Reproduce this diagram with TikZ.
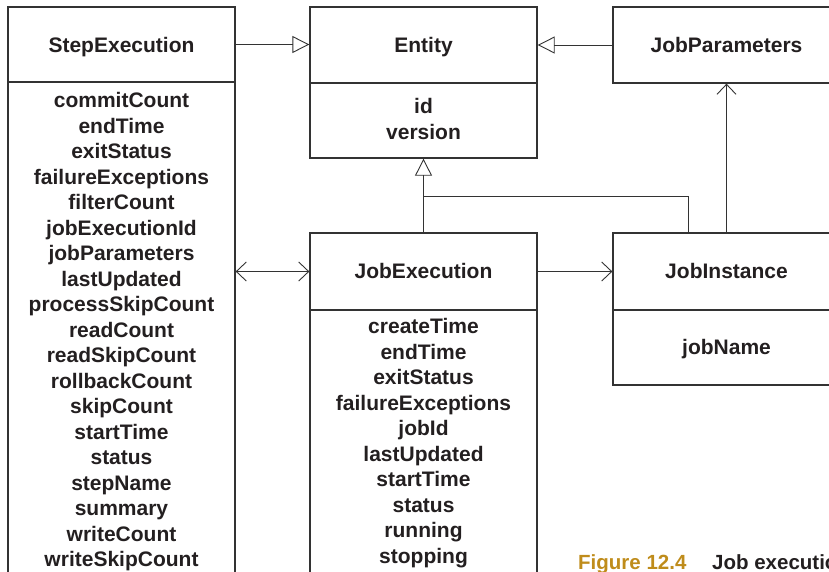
\documentclass[tikz,border=0pt]{standalone}
\usepackage{fontspec}
\setmainfont{Liberation Sans}
\usetikzlibrary{arrows.meta}
\definecolor{ink}{HTML}{231F20}
\definecolor{edge}{HTML}{333333}
\definecolor{gold}{RGB}{191,140,27}
\begin{document}
\begin{tikzpicture}[x=1pt,y=-1pt,
  box/.style={draw=edge, line width=1.3pt, inner sep=0pt, minimum width=227pt},
  lbl/.style={font=\fontsize{21}{25.5}\selectfont\bfseries, text=ink, anchor=base, inner sep=0pt},
  conn/.style={draw=edge, line width=0.9pt},
  tri/.style={-{Triangle[open, length=17pt, width=17pt, line width=0.9pt]}},
  barb/.style={-{Straight Barb[length=10pt, width=19pt, line width=0.9pt]}},
  dbarb/.style={{Straight Barb[length=10pt, width=19pt, line width=0.9pt]}-{Straight Barb[length=10pt, width=19pt, line width=0.9pt]}},
  capf/.style={font=\fontsize{20.5}{24}\selectfont\bfseries, anchor=base west, inner sep=0pt},
]
\useasboundingbox (0,0) rectangle (829,571);
\clip (0,0) rectangle (829,571);

% boxes
\node[box, minimum height=75pt] (seH) at (121.5,44.5) {};
\node[box, minimum height=538pt] (seB) at (121.5,351) {};
\node[box, minimum height=76pt] (entH) at (423.5,45) {};
\node[box, minimum height=75pt] (entB) at (423.5,120.5) {};
\node[box, minimum height=76pt] (jpH) at (726.5,45) {};
\node[box, minimum height=77pt] (jeH) at (423.5,271.5) {};
\node[box, minimum height=310pt] (jeB) at (423.5,465) {};
\node[box, minimum height=77pt] (jiH) at (726.5,271.5) {};
\node[box, minimum height=75pt] (jiB) at (726.5,347.5) {};

% titles
\node[lbl] (seT) at (121.5,52.5) {StepExecution};
\node[lbl] (entT) at (423.5,52.5) {Entity};
\node[lbl] (jpT) at (726.5,52.5) {JobParameters};
\node[lbl] (jeT) at (423.5,278.5) {JobExecution};
\node[lbl] (jiT) at (726.5,278.5) {JobInstance};

% attributes
\foreach \t [count=\k from 0] in {commitCount,endTime,exitStatus,failureExceptions,filterCount,jobExecutionId,jobParameters,lastUpdated,processSkipCount,readCount,readSkipCount,rollbackCount,skipCount,startTime,status,stepName,summary,writeCount,writeSkipCount}
  \node[lbl] (se\k) at (121.5,107.5+25.5*\k) {\t};
\foreach \t [count=\k from 0] in {createTime,endTime,exitStatus,failureExceptions,jobId,lastUpdated,startTime,status,running,stopping}
  \node[lbl] (je\k) at (423.5,333.5+25.5*\k) {\t};
\node[lbl] (ent0) at (423.5,113.5) {id};
\node[lbl] (ent1) at (423.5,139) {version};
\node[lbl] (ji0) at (726.5,354.5) {jobName};

% connectors
\draw[conn,tri] (seH.east) -- (seH.east -| entH.west);
\draw[conn,tri] (jpH.west) -- (entH.east);
\draw[conn,tri] (jeH.north) -- (entB.south);
\coordinate (jn) at ([xshift=-38.5pt]jiH.north);
\coordinate (jj) at (423.5,196);
\draw[conn] (jn) |- (jj);
\draw[conn,barb] (jiH.north) -- (jpH.south);
\draw[conn,dbarb] (jeH.west -| seB.east) -- (jeH.west);
\draw[conn,barb] (jeH.east) -- (jiH.west);

% caption
\node[capf, text=gold] (cap1) at (578,569.5) {Figure 12.4};
\node[capf, text=ink] (cap2) at (712,569.5) {Job execution};
\end{tikzpicture}
\end{document}
